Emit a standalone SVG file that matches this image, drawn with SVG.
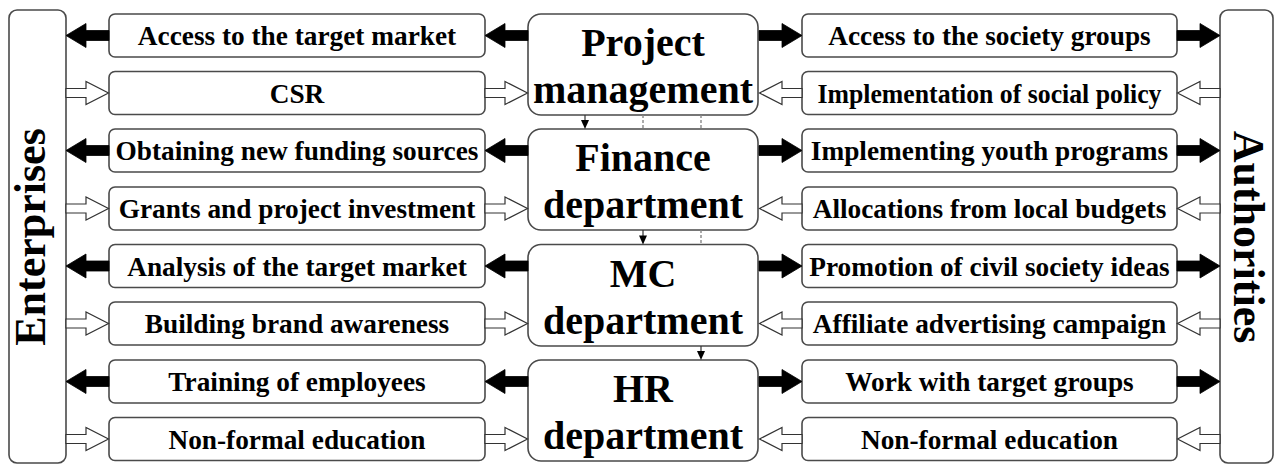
<svg xmlns="http://www.w3.org/2000/svg" xmlns:xlink="http://www.w3.org/1999/xlink" width="1279" height="465" viewBox="0 0 1279 465">
<style>
.box{fill:#fff;stroke:#4a4a4a;stroke-width:1.6}
.t{font-family:"Liberation Serif","Times New Roman",serif;font-weight:bold;fill:#000;text-anchor:middle}
.s{font-size:27.3px}
.c{font-size:40px}
.side{font-size:44px}
.blk{fill:#000;stroke:#000;stroke-width:0.8}
.wht{fill:#fff;stroke:#333;stroke-width:1.2}
.ln{stroke:#333;stroke-width:1.2;fill:none}
.dash{stroke:#888;stroke-width:1.4;stroke-dasharray:3 2;fill:none}
.ah{fill:#000}
</style>
<defs>
<path id="ab" d="M0,0 L20,-12 L20,-5 L43,-5 L43,5 L20,5 L20,12 Z"/>
<path id="aw" d="M0,-4.5 L20,-4.5 L20,-11.5 L42.5,0 L20,11.5 L20,4.5 L0,4.5 Z"/>
</defs>

<g id="enterprises">
<rect class="box" x="9" y="10" width="57" height="453" rx="8"/>
<text class="t side" transform="translate(31,237) rotate(-90)" y="14">Enterprises</text>
</g>
<g id="authorities">
<rect class="box" x="1220" y="10" width="53" height="453" rx="8"/>
<text class="t side" transform="translate(1249,237) rotate(90)" y="15">Authorities</text>
</g>

<g id="project-management">
<rect class="box" x="528" y="14" width="230" height="101" rx="13"/>
<text class="t c" x="643" y="55.5">Project</text>
<text class="t c" x="643" y="102.5">management</text>
</g>
<g id="finance-department">
<rect class="box" x="528" y="129" width="230" height="101" rx="13"/>
<text class="t c" x="643" y="170.5">Finance</text>
<text class="t c" x="643" y="217.5">department</text>
</g>
<g id="mc-department">
<rect class="box" x="528" y="244.5" width="230" height="101.5" rx="13"/>
<text class="t c" x="643" y="286.5">MC</text>
<text class="t c" x="643" y="333.5">department</text>
</g>
<g id="hr-department">
<rect class="box" x="528" y="360" width="230" height="101" rx="13"/>
<text class="t c" x="643" y="401.5">HR</text>
<text class="t c" x="643" y="448.5">department</text>
</g>

<g id="l1"><rect class="box" x="109" y="14" width="376" height="43" rx="6"/><text class="t s" x="297" y="45">Access to the target market</text></g>
<g id="l2"><rect class="box" x="109" y="71.5" width="376" height="43" rx="6"/><text class="t s" x="297" y="102.5">CSR</text></g>
<g id="l3"><rect class="box" x="109" y="129" width="376" height="43" rx="6"/><text class="t s" x="297" y="160">Obtaining new funding sources</text></g>
<g id="l4"><rect class="box" x="109" y="187" width="376" height="43" rx="6"/><text class="t s" x="297" y="218">Grants and project investment</text></g>
<g id="l5"><rect class="box" x="109" y="244.5" width="376" height="43" rx="6"/><text class="t s" x="297" y="275.5">Analysis of the target market</text></g>
<g id="l6"><rect class="box" x="109" y="302" width="376" height="43" rx="6"/><text class="t s" x="297" y="333">Building brand awareness</text></g>
<g id="l7"><rect class="box" x="109" y="360" width="376" height="43" rx="6"/><text class="t s" x="297" y="391">Training of employees</text></g>
<g id="l8"><rect class="box" x="109" y="417.5" width="376" height="43" rx="6"/><text class="t s" x="297" y="448.5">Non-formal education</text></g>

<g id="r1"><rect class="box" x="802" y="14" width="375" height="43" rx="6"/><text class="t s" x="989.5" y="45">Access to the society groups</text></g>
<g id="r2"><rect class="box" x="802" y="71.5" width="375" height="43" rx="6"/><text class="t s" x="989.5" y="102.5" textLength="344" lengthAdjust="spacingAndGlyphs">Implementation of social policy</text></g>
<g id="r3"><rect class="box" x="802" y="129" width="375" height="43" rx="6"/><text class="t s" x="989.5" y="160">Implementing youth programs</text></g>
<g id="r4"><rect class="box" x="802" y="187" width="375" height="43" rx="6"/><text class="t s" x="989.5" y="218">Allocations from local budgets</text></g>
<g id="r5"><rect class="box" x="802" y="244.5" width="375" height="43" rx="6"/><text class="t s" x="989.5" y="275.5">Promotion of civil society ideas</text></g>
<g id="r6"><rect class="box" x="802" y="302" width="375" height="43" rx="6"/><text class="t s" x="989.5" y="333">Affiliate advertising campaign</text></g>
<g id="r7"><rect class="box" x="802" y="360" width="375" height="43" rx="6"/><text class="t s" x="989.5" y="391">Work with target groups</text></g>
<g id="r8"><rect class="box" x="802" y="417.5" width="375" height="43" rx="6"/><text class="t s" x="989.5" y="448.5">Non-formal education</text></g>

<g id="connectors">
<use xlink:href="#ab" class="blk" transform="translate(66,35.5)"/>
<use xlink:href="#ab" class="blk" transform="translate(485,35.5)"/>
<use xlink:href="#aw" class="wht" transform="translate(66,93)"/>
<use xlink:href="#aw" class="wht" transform="translate(485,93)"/>
<use xlink:href="#ab" class="blk" transform="translate(66,150.5)"/>
<use xlink:href="#ab" class="blk" transform="translate(485,150.5)"/>
<use xlink:href="#aw" class="wht" transform="translate(66,208.5)"/>
<use xlink:href="#aw" class="wht" transform="translate(485,208.5)"/>
<use xlink:href="#ab" class="blk" transform="translate(66,266)"/>
<use xlink:href="#ab" class="blk" transform="translate(485,266)"/>
<use xlink:href="#aw" class="wht" transform="translate(66,323.5)"/>
<use xlink:href="#aw" class="wht" transform="translate(485,323.5)"/>
<use xlink:href="#ab" class="blk" transform="translate(66,381.5)"/>
<use xlink:href="#ab" class="blk" transform="translate(485,381.5)"/>
<use xlink:href="#aw" class="wht" transform="translate(66,439)"/>
<use xlink:href="#aw" class="wht" transform="translate(485,439)"/>
<use xlink:href="#ab" class="blk" transform="translate(802,35.5) scale(-1,1)"/>
<use xlink:href="#ab" class="blk" transform="translate(1220,35.5) scale(-1,1)"/>
<use xlink:href="#aw" class="wht" transform="translate(802,93) scale(-1,1)"/>
<use xlink:href="#aw" class="wht" transform="translate(1220,93) scale(-1,1)"/>
<use xlink:href="#ab" class="blk" transform="translate(802,150.5) scale(-1,1)"/>
<use xlink:href="#ab" class="blk" transform="translate(1220,150.5) scale(-1,1)"/>
<use xlink:href="#aw" class="wht" transform="translate(802,208.5) scale(-1,1)"/>
<use xlink:href="#aw" class="wht" transform="translate(1220,208.5) scale(-1,1)"/>
<use xlink:href="#ab" class="blk" transform="translate(802,266) scale(-1,1)"/>
<use xlink:href="#ab" class="blk" transform="translate(1220,266) scale(-1,1)"/>
<use xlink:href="#aw" class="wht" transform="translate(802,323.5) scale(-1,1)"/>
<use xlink:href="#aw" class="wht" transform="translate(1220,323.5) scale(-1,1)"/>
<use xlink:href="#ab" class="blk" transform="translate(802,381.5) scale(-1,1)"/>
<use xlink:href="#ab" class="blk" transform="translate(1220,381.5) scale(-1,1)"/>
<use xlink:href="#aw" class="wht" transform="translate(802,439) scale(-1,1)"/>
<use xlink:href="#aw" class="wht" transform="translate(1220,439) scale(-1,1)"/>
<line class="ln" x1="585" y1="115" x2="585" y2="121"/>
<path class="ah" d="M581,120 L589,120 L585,129 Z"/>
<line class="dash" x1="643" y1="115" x2="643" y2="129"/>
<line class="dash" x1="701" y1="115" x2="701" y2="129"/>
<line class="ln" x1="643" y1="230" x2="643" y2="236"/>
<path class="ah" d="M639,235.5 L647,235.5 L643,244.5 Z"/>
<line class="dash" x1="701" y1="230" x2="701" y2="244.5"/>
<line class="ln" x1="701" y1="346" x2="701" y2="352"/>
<path class="ah" d="M697,351 L705,351 L701,360 Z"/>
</g>
</svg>
